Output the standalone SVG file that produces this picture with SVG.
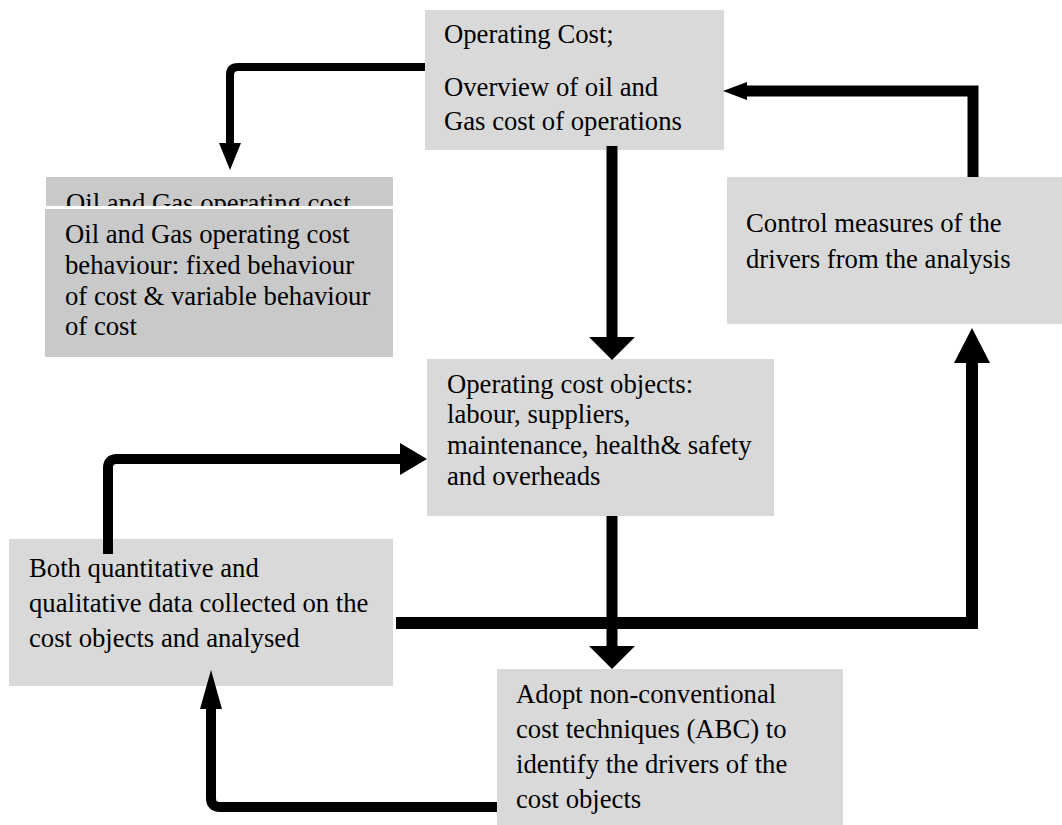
<svg xmlns="http://www.w3.org/2000/svg" width="1062" height="825" viewBox="0 0 1062 825">
<style>
.box{fill:#d9d9d9}
.dark{fill:#c9c9c9}
text{font-family:"Liberation Serif","Times New Roman",serif;font-size:26.7px;fill:#000}
.ln{fill:none;stroke:#000;stroke-linejoin:round}
.lm{fill:none;stroke:#000;stroke-linejoin:miter}
.ah{fill:#000}
</style>
<defs>
<clipPath id="clipTop"><rect x="46" y="177" width="347" height="29"/></clipPath>
</defs>
<rect width="1062" height="825" fill="#fff"/>

<g id="node-top">
<rect class="box" x="425" y="10" width="299" height="140"/>
<text x="444" y="43">Operating Cost;</text>
<text x="444" y="96">Overview of oil and</text>
<text x="444" y="130">Gas cost of operations</text>
</g>

<g id="node-behaviour">
<rect class="dark" x="46" y="177" width="347" height="29"/>
<text x="66" y="212" clip-path="url(#clipTop)">Oil and Gas operating cost</text>
<rect class="dark" x="45" y="209" width="348" height="148"/>
<text x="65" y="243">Oil and Gas operating cost</text>
<text x="65" y="274">behaviour: fixed behaviour</text>
<text x="65" y="305">of cost &amp; variable behaviour</text>
<text x="65" y="335">of cost</text>
</g>

<g id="node-control">
<rect class="box" x="727" y="177" width="335" height="147"/>
<text x="746" y="232">Control measures of the</text>
<text x="746" y="268">drivers from the analysis</text>
</g>

<g id="node-objects">
<rect class="box" x="427" y="359" width="347" height="157"/>
<text x="447" y="393">Operating cost objects:</text>
<text x="447" y="423">labour, suppliers,</text>
<text x="447" y="454">maintenance, health&amp; safety</text>
<text x="447" y="485">and overheads</text>
</g>

<g id="node-data">
<rect class="box" x="9" y="539" width="384" height="147"/>
<text x="29" y="577">Both quantitative and</text>
<text x="29" y="612">qualitative data collected on the</text>
<text x="29" y="647">cost objects and analysed</text>
</g>

<g id="node-abc">
<rect class="box" x="497" y="669" width="346" height="156"/>
<text x="516" y="703">Adopt non-conventional</text>
<text x="516" y="738">cost techniques (ABC) to</text>
<text x="516" y="773">identify the drivers of the</text>
<text x="516" y="808">cost objects</text>
</g>

<g id="connectors">
<!-- top -> behaviour -->
<path class="ln" stroke-width="8" d="M425,67 H238 Q230,67 230,75 V144"/>
<polygon class="ah" points="219,143 241,143 230,170"/>
<!-- top -> objects -->
<path class="lm" stroke-width="11" d="M612,146 V338"/>
<polygon class="ah" points="589,337 635,337 612,360"/>
<!-- control -> top -->
<path class="lm" stroke-width="11" d="M973,177 V91 H746"/>
<polygon class="ah" points="747,82 747,100 723,91"/>
<!-- objects -> abc -->
<path class="lm" stroke-width="11" d="M612,516 V647"/>
<polygon class="ah" points="589,646 635,646 612,669"/>
<!-- data -> control -->
<path class="lm" stroke-width="12" d="M396,623 H972 V362"/>
<polygon class="ah" points="954,363 990,363 972,328"/>
<!-- data -> objects -->
<path class="ln" stroke-width="10" d="M108,554 V468 Q108,459 117,459 H401"/>
<polygon class="ah" points="400,443 400,475 427,459"/>
<!-- abc -> data -->
<path class="ln" stroke-width="10" d="M497,807 H220 Q211,807 211,798 V708"/>
<polygon class="ah" points="200,709 222,709 211,670"/>
</g>
</svg>
